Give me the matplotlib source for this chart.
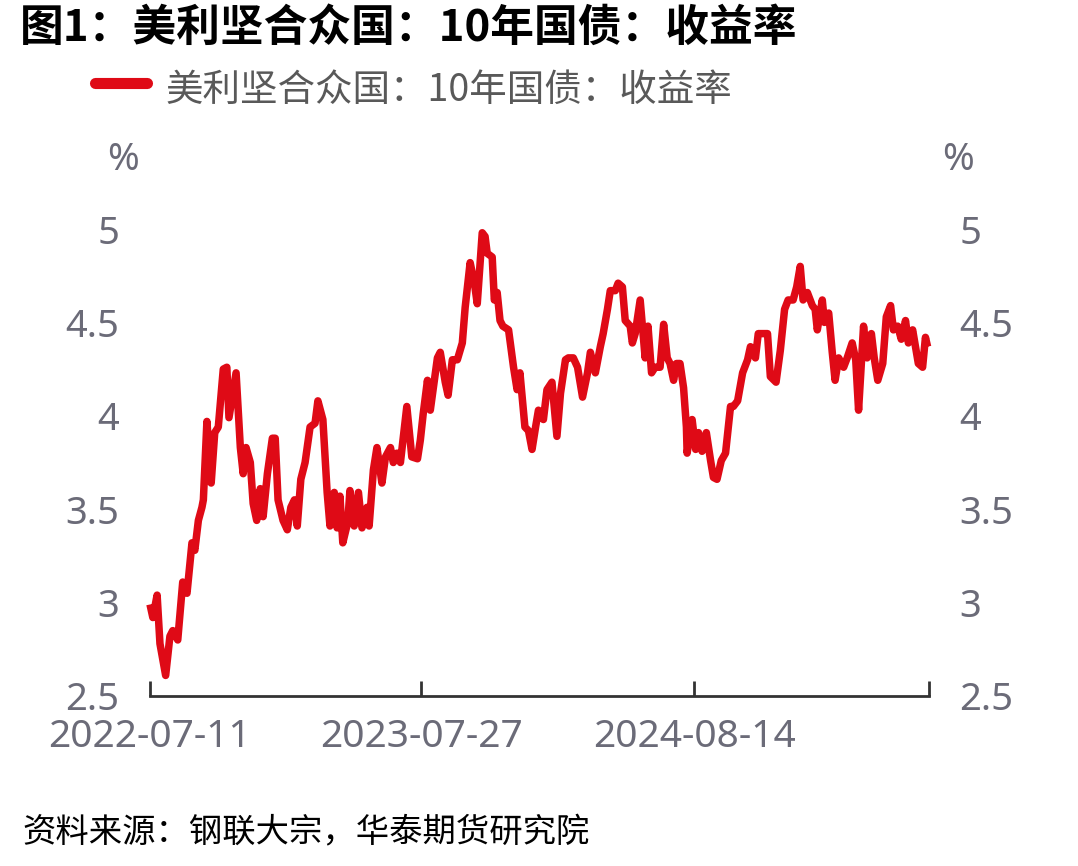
import numpy as np
import pandas as pd
import matplotlib
matplotlib.use("Agg")
import matplotlib.pyplot as plt
import matplotlib.dates as mdates
from matplotlib.lines import Line2D

plt.rcParams['font.family'] = ['Noto Sans CJK SC', 'DejaVu Sans']

## data
dates = [
    "2022-07-11", "2022-07-15", "2022-07-21", "2022-07-25", "2022-08-02", "2022-08-08", "2022-08-12",
    "2022-08-19", "2022-08-26", "2022-09-01", "2022-09-08", "2022-09-12", "2022-09-17", "2022-09-22",
    "2022-09-24", "2022-09-29", "2022-10-05", "2022-10-10", "2022-10-15", "2022-10-22", "2022-10-27",
    "2022-10-30", "2022-11-09", "2022-11-15", "2022-11-19", "2022-11-23", "2022-11-29", "2022-12-03",
    "2022-12-08", "2022-12-13", "2022-12-17", "2022-12-23", "2022-12-30", "2023-01-03", "2023-01-07",
    "2023-01-14", "2023-01-20", "2023-01-25", "2023-01-30", "2023-02-03", "2023-02-08", "2023-02-14",
    "2023-02-21", "2023-02-28", "2023-03-04", "2023-03-11", "2023-03-17", "2023-03-21", "2023-03-27",
    "2023-03-31", "2023-04-04", "2023-04-08", "2023-04-15", "2023-04-18", "2023-04-24", "2023-04-30",
    "2023-05-05", "2023-05-12", "2023-05-15", "2023-05-21", "2023-05-26", "2023-06-02", "2023-06-07",
    "2023-06-14", "2023-06-18", "2023-06-23", "2023-06-28", "2023-07-07", "2023-07-14", "2023-07-22",
    "2023-07-26", "2023-07-30", "2023-08-05", "2023-08-09", "2023-08-19", "2023-08-23", "2023-08-30",
    "2023-09-03", "2023-09-09", "2023-09-16", "2023-09-23", "2023-09-27", "2023-10-04", "2023-10-10",
    "2023-10-14", "2023-10-21", "2023-10-25", "2023-10-28", "2023-11-04", "2023-11-07", "2023-11-11",
    "2023-11-15", "2023-11-19", "2023-11-27", "2023-12-04", "2023-12-09", "2023-12-13", "2023-12-20",
    "2023-12-25", "2023-12-30", "2024-01-04", "2024-01-08", "2024-01-15", "2024-01-20", "2024-01-27",
    "2024-02-03", "2024-02-08", "2024-02-15", "2024-02-19", "2024-02-26", "2024-03-03", "2024-03-10",
    "2024-03-17", "2024-03-21", "2024-03-28", "2024-04-04", "2024-04-08", "2024-04-14", "2024-04-18",
    "2024-04-25", "2024-04-29", "2024-05-05", "2024-05-09", "2024-05-16", "2024-05-19", "2024-05-23",
    "2024-05-30", "2024-06-06", "2024-06-10", "2024-06-15", "2024-06-20", "2024-06-27", "2024-07-02",
    "2024-07-07", "2024-07-11", "2024-07-16", "2024-07-20", "2024-07-25", "2024-07-30", "2024-08-03",
    "2024-08-04", "2024-08-11", "2024-08-16", "2024-08-20", "2024-08-25", "2024-08-31", "2024-09-06",
    "2024-09-10", "2024-09-15", "2024-09-21", "2024-09-27", "2024-10-04", "2024-10-08", "2024-10-14",
    "2024-10-21", "2024-10-28", "2024-11-01", "2024-11-08", "2024-11-12", "2024-11-18", "2024-11-25",
    "2024-11-29", "2024-12-07", "2024-12-13", "2024-12-19", "2024-12-24", "2024-12-31", "2025-01-05",
    "2025-01-10", "2025-01-14", "2025-01-20", "2025-01-27", "2025-01-31", "2025-02-03", "2025-02-10",
    "2025-02-13", "2025-02-19", "2025-02-24", "2025-02-28", "2025-03-05", "2025-03-12", "2025-03-17",
    "2025-03-24", "2025-03-29", "2025-04-02", "2025-04-09", "2025-04-14", "2025-04-20", "2025-04-24",
    "2025-04-29", "2025-05-06", "2025-05-11", "2025-05-17", "2025-05-21", "2025-05-27", "2025-06-01",
    "2025-06-07", "2025-06-11", "2025-06-17", "2025-06-21", "2025-06-25", "2025-07-01", "2025-07-05",
    "2025-07-08",
]
yields = [
    2.99, 2.92, 3.04, 2.78, 2.61, 2.82, 2.85,
    2.80, 3.11, 3.05, 3.32, 3.28, 3.44, 3.51,
    3.55, 3.97, 3.64, 3.91, 3.94, 4.25, 4.26,
    3.99, 4.23, 3.83, 3.69, 3.83, 3.75, 3.53,
    3.44, 3.61, 3.46, 3.69, 3.88, 3.88, 3.55,
    3.44, 3.39, 3.51, 3.55, 3.41, 3.66, 3.75,
    3.94, 3.96, 4.08, 3.98, 3.59, 3.41, 3.59,
    3.40, 3.57, 3.32, 3.43, 3.60, 3.41, 3.59,
    3.40, 3.51, 3.41, 3.71, 3.83, 3.64, 3.78,
    3.83, 3.75, 3.80, 3.75, 4.05, 3.78, 3.77,
    3.87, 4.01, 4.19, 4.03, 4.31, 4.34, 4.18,
    4.11, 4.30, 4.30, 4.39, 4.58, 4.82, 4.71,
    4.60, 4.98, 4.96, 4.87, 4.85, 4.62, 4.66,
    4.51, 4.48, 4.46, 4.26, 4.14, 4.23, 3.94,
    3.92, 3.82, 3.94, 4.03, 3.98, 4.14, 4.18,
    3.89, 4.12, 4.30, 4.31, 4.31, 4.26, 4.10,
    4.23, 4.34, 4.23, 4.37, 4.44, 4.57, 4.67,
    4.67, 4.71, 4.69, 4.51, 4.48, 4.39, 4.44,
    4.62, 4.31, 4.48, 4.23, 4.26, 4.26, 4.49,
    4.31, 4.28, 4.19, 4.28, 4.28, 4.15, 3.94,
    3.80, 3.98, 3.82, 3.91, 3.81, 3.91, 3.76,
    3.67, 3.66, 3.76, 3.80, 4.05, 4.05, 4.08,
    4.23, 4.30, 4.37, 4.31, 4.44, 4.44, 4.44,
    4.21, 4.18, 4.35, 4.57, 4.62, 4.62, 4.69,
    4.80, 4.62, 4.66, 4.59, 4.57, 4.46, 4.62,
    4.50, 4.55, 4.34, 4.19, 4.31, 4.26, 4.31,
    4.39, 4.30, 4.03, 4.48, 4.31, 4.44, 4.31,
    4.19, 4.28, 4.53, 4.59, 4.46, 4.48, 4.41,
    4.51, 4.39, 4.46, 4.37, 4.28, 4.26, 4.42,
    4.37,
]

tick_dates = ["2022-07-11", "2023-07-27", "2024-08-14", "2025-07-10"]
tick_labels = ["2022-07-11", "2023-07-27", "2024-08-14", ""]
yticks = [2.5, 3, 3.5, 4, 4.5, 5]
ytick_labels = ["2.5", "3", "3.5", "4", "4.5", "5"]

title = "图1：美利坚合众国：10年国债：收益率"
series_name = "美利坚合众国：10年国债：收益率"
source = "资料来源：钢联大宗，华泰期货研究院"

red = "#DF0A16"
gray = "#6B6B78"
num_font = ['Noto Sans', 'DejaVu Sans']

x = pd.to_datetime(dates)
xt = pd.to_datetime(tick_dates)

fig = plt.figure(figsize=(10.78, 8.66), dpi=100)
ax = fig.add_axes([150/1078, (866-696)/866, (929-150)/1078, (696-229)/866])
ax.plot(x, yields, color=red, lw=5.4, solid_joinstyle='round', solid_capstyle='butt', clip_on=False)

ax.set_xlim(xt[0], xt[-1])
ax.set_ylim(2.5, 5)
ax.set_xticks(xt)
ax.set_xticklabels(tick_labels, fontsize=28, color=gray, family=num_font)
ax.tick_params(axis='x', direction='in', length=11, width=2, color='#333333', pad=16)
ax.set_yticks(yticks)
ax.set_yticklabels(ytick_labels, fontsize=27.5, color=gray, family=num_font)
ax.tick_params(axis='y', length=0, pad=22, labelright=True)
for s in ['left', 'right', 'top']:
    ax.spines[s].set_visible(False)
ax.spines['bottom'].set_color('#333333')
ax.spines['bottom'].set_linewidth(2)

fig.text(123/1078, 1-160/866, "%", fontsize=27.5, color=gray, ha='center', va='center', family=num_font)
fig.text(958/1078, 1-160/866, "%", fontsize=27.5, color=gray, ha='center', va='center', family=num_font)

fig.text(20/1078, 1-28/866, title, fontsize=31.5, fontweight='bold', color='black',
         ha='left', va='center')

fig.add_artist(Line2D([95/1078, 147/1078], [1-83/866, 1-83/866], color=red, lw=8,
                      solid_capstyle='round', transform=fig.transFigure))
fig.text(165/1078, 1-90/866, series_name, fontsize=27, color='#595959', ha='left', va='center')

fig.text(22/1078, 1-833/866, source, fontsize=24, color='black', ha='left', va='center',
         style='italic')

fig.savefig("out.png", dpi=100, facecolor='white')
